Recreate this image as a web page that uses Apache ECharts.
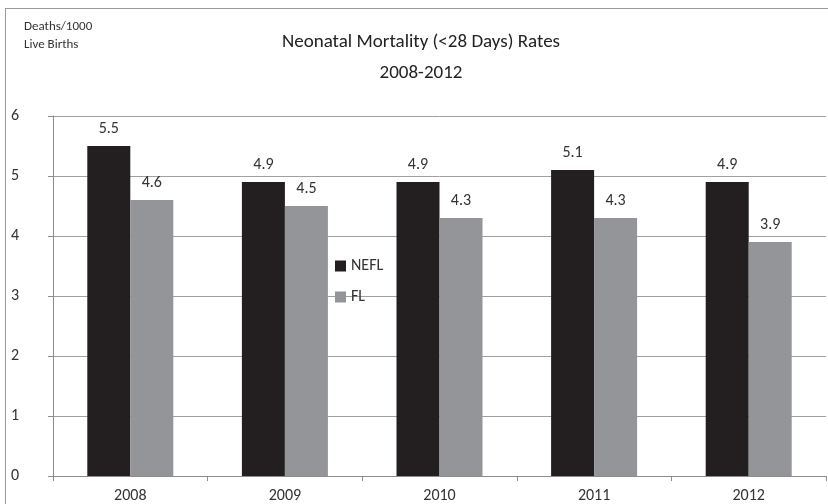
<!DOCTYPE html>
<html>
<head>
<meta charset="utf-8">
<script src="https://cdn.jsdelivr.net/npm/echarts@6/dist/echarts.min.js"></script>
<style>
  html, body { margin: 0; padding: 0; background: #fff; }
  #chart { width: 828px; height: 504px; }
  #frame { position: absolute; left: 5px; top: 8px; width: 840px; height: 520px; border: 1px solid #9a9a9a; box-sizing: border-box; pointer-events: none; }
</style>
</head>
<body>
<div id="chart"></div>
<div id="frame"></div>
<script>
// values
var years = ['2008', '2009', '2010', '2011', '2012'];
var nefl = [5.5, 4.9, 4.9, 5.1, 4.9];
var fl = [4.6, 4.5, 4.3, 4.3, 3.9];
var yTicks = [0, 1, 2, 3, 4, 5, 6];

var fontFam = "Carlito, 'Liberation Sans Narrow', 'DejaVu Sans Condensed', sans-serif";

function initChart() {
	var myChart = echarts.init(document.getElementById('chart'));
	var option = {
		animation: false,
		textStyle: { fontFamily: fontFam },
		title: {
			text: 'Neonatal Mortality (<28 Days) Rates\n2008-2012',
			left: 416,
			textAlign: 'center',
			top: 22,
			textStyle: { fontSize: 19, fontWeight: 'normal', color: '#222', lineHeight: 31, fontFamily: fontFam }
		},
		legend: {
			orient: 'vertical',
			left: 330,
			top: 253,
			itemWidth: 11,
			itemHeight: 11,
			itemGap: 15,
			icon: 'rect',
			textStyle: { fontSize: 16, color: '#333', fontFamily: fontFam },
			data: ['NEFL', 'FL']
		},
		grid: { left: 53, right: 2, top: 116, bottom: 26 },
		xAxis: {
			type: 'category',
			data: years,
			axisLine: { lineStyle: { color: '#8c8c8c' } },
			axisTick: { show: true, alignWithLabel: false, length: 5, lineStyle: { color: '#8c8c8c' } },
			axisLabel: { fontSize: 16, color: '#333', margin: 12 }
		},
		yAxis: {
			type: 'value',
			min: yTicks[0],
			max: yTicks[yTicks.length - 1],
			interval: 1,
			name: 'Deaths/1000\nLive Births',
			nameLocation: 'end',
			nameGap: 0,
			nameTextStyle: { fontSize: 13, color: '#333', align: 'left', padding: [0, 0, 54, -29], lineHeight: 18, fontFamily: fontFam },
			axisLine: { show: true, lineStyle: { color: '#8c8c8c' } },
			axisTick: { show: true, length: 5, lineStyle: { color: '#8c8c8c' } },
			axisLabel: { fontSize: 16, color: '#333', margin: 42, align: 'left' },
			splitLine: { lineStyle: { color: '#a0a0a0' } }
		},
		series: [
			{
				name: 'NEFL',
				type: 'bar',
				data: nefl,
				barWidth: 43,
				barGap: '0%',
				itemStyle: { color: '#231f20' },
				label: { show: true, position: 'top', fontSize: 16, color: '#333', distance: 9 }
			},
			{
				name: 'FL',
				type: 'bar',
				data: fl,
				barWidth: 43,
				itemStyle: { color: '#939598' },
				label: { show: true, position: 'top', fontSize: 16, color: '#333', distance: 9 }
			}
		]
	};
	myChart.setOption(option);
}
initChart();
</script>
</body>
</html>
